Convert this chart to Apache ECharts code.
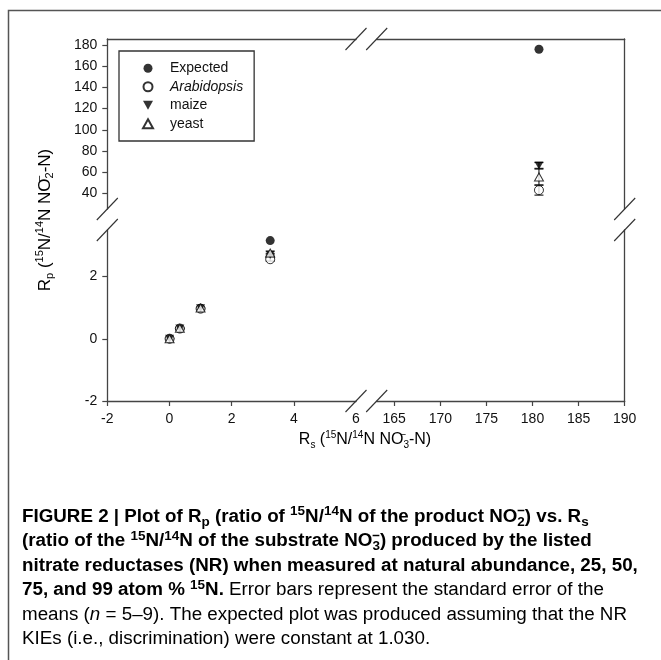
<!DOCTYPE html>
<html><head><meta charset="utf-8">
<script src="https://cdn.jsdelivr.net/npm/echarts@6/dist/echarts.min.js"></script>
<style>html,body{margin:0;padding:0;background:#fff}#c{width:661px;height:660px}</style>
</head><body><div id="c"></div>
<script>
// ---- data ----
const rs          = [0.0037, 0.333, 1.0, 3.24, 180.7];
const expected    = [0.0036, 0.33, 0.98, 3.16, 176.0];
const arabidopsis = [0.0036, 0.33, 0.97, 2.56, 43.0];
const arabErr     = [0.01, 0.01, 0.02, 0.06, 4.7];
const maize       = [0.0036, 0.33, 0.98, 2.70, 66.3];
const maizeErr    = [0.01, 0.01, 0.02, 0.05, 2.7];
const yeast       = [0.0036, 0.34, 0.99, 2.76, 55.4];
const yeastErr    = [0.01, 0.01, 0.02, 0.06, 7.5];
const xTicksLeft   = [-2, 0, 2, 4];
const xLabelsLeft  = [-2, 0, 2, 4, 6];
const xTicksRight  = [165, 170, 175, 180, 185, 190];
const yTicksLower  = [-2, 0, 2];
const yTicksUpper  = [40, 60, 80, 100, 120, 140, 160, 180];
const xRangeLeft = [-2, 6], xRangeRight = [163.1, 190];
const yRangeLower = [-2, 3.5], yRangeUpper = [25.2, 185.7];

// ---- layout ----
const G = {L:107.3, xbL:356, xbR:376.7, R:624.7, T:39, ybT:209, ybB:230, B:401};
const FONT = "'Liberation Sans', Arial, sans-serif";
const AX = '#444';

const chart = echarts.init(document.getElementById('c'), null, {renderer:'canvas'});

const grids = [
  {left:G.L,   top:G.T,   width:G.xbL-G.L, height:G.ybT-G.T}, // 0 TL
  {left:G.xbR, top:G.T,   width:G.R-G.xbR, height:G.ybT-G.T}, // 1 TR
  {left:G.L,   top:G.ybB, width:G.xbL-G.L, height:G.B-G.ybB}, // 2 BL
  {left:G.xbR, top:G.ybB, width:G.R-G.xbR, height:G.B-G.ybB}  // 3 BR
].map(g => Object.assign(g, {containLabel:false, outerBoundsMode:'none', show:false}));

const lineOnly = {show:true, onZero:false, lineStyle:{color:AX, width:1.3}};
const lbl = (vals, margin) => ({show:true, customValues:vals, margin, fontSize:14, color:'#111', fontFamily:FONT});
const tck = vals => ({show:true, customValues:vals, length:5, inside:false, lineStyle:{color:AX, width:1.2}});

const xAxis = [
  {gridIndex:0, type:'value', position:'top', min:xRangeLeft[0], max:xRangeLeft[1], axisLine:lineOnly, axisTick:{show:false}, axisLabel:{show:false}, splitLine:{show:false}},
  {gridIndex:1, type:'value', position:'top', min:xRangeRight[0], max:xRangeRight[1], axisLine:lineOnly, axisTick:{show:false}, axisLabel:{show:false}, splitLine:{show:false}},
  {gridIndex:2, type:'value', position:'bottom', min:xRangeLeft[0], max:xRangeLeft[1], axisLine:lineOnly, axisTick:tck(xTicksLeft), axisLabel:lbl(xLabelsLeft, 11), splitLine:{show:false}},
  {gridIndex:3, type:'value', position:'bottom', min:xRangeRight[0], max:xRangeRight[1], axisLine:lineOnly, axisTick:tck(xTicksRight), axisLabel:lbl(xTicksRight, 11), splitLine:{show:false}}
];
const yAxis = [
  {gridIndex:0, type:'value', position:'left', min:yRangeUpper[0], max:yRangeUpper[1], axisLine:lineOnly, axisTick:tck(yTicksUpper), axisLabel:lbl(yTicksUpper, 10), splitLine:{show:false}},
  {gridIndex:1, type:'value', position:'right', min:yRangeUpper[0], max:yRangeUpper[1], axisLine:lineOnly, axisTick:{show:false}, axisLabel:{show:false}, splitLine:{show:false}},
  {gridIndex:2, type:'value', position:'left', min:yRangeLower[0], max:yRangeLower[1], axisLine:lineOnly, axisTick:tck(yTicksLower), axisLabel:lbl(yTicksLower, 10), splitLine:{show:false}},
  {gridIndex:3, type:'value', position:'right', min:yRangeLower[0], max:yRangeLower[1], axisLine:lineOnly, axisTick:{show:false}, axisLabel:{show:false}, splitLine:{show:false}}
];

const gridDefs = [{top:true,right:false},{top:true,right:true},{top:false,right:false},{top:false,right:true}];
function pick(ys, errs, gd) {
  const out = [];
  for (let i = 0; i < rs.length; i++) {
    const isRight = rs[i] > 100, isTop = ys[i] > 15;
    if (isRight === gd.right && isTop === gd.top) out.push(errs ? [rs[i], ys[i], errs[i]] : [rs[i], ys[i]]);
  }
  return out;
}
const DOWN_TRI = 'path://M0,0L10,0L5,9Z';
const UP_TRI = 'path://M5,0L10,9L0,9Z';
const sets = [
  {name:'Expected', ys:expected, err:null, symbol:'circle', icon:'circle', size:9, style:{color:'#000'}},
  {name:'Arabidopsis', ys:arabidopsis, err:arabErr, symbol:'circle', icon:'circle', size:9, style:{color:'#fff', borderColor:'#000', borderWidth:1}},
  {name:'maize', ys:maize, err:maizeErr, symbol:'triangle', icon:DOWN_TRI, size:[9,8], rotate:180, style:{color:'#000'}},
  {name:'yeast', ys:yeast, err:yeastErr, symbol:'triangle', icon:UP_TRI, size:[9,8], style:{color:'#fff', borderColor:'#000', borderWidth:1}}
];

function errRender(params, api) {
  const x = api.value(0), y = api.value(1), e = api.value(2);
  const a = api.coord([x, y + e]), b = api.coord([x, y - e]);
  const hw = 4.5, st = {stroke:'#000', lineWidth:1};
  return {type:'group', children:[
    {type:'line', shape:{x1:a[0], y1:a[1], x2:b[0], y2:b[1]}, style:st},
    {type:'line', shape:{x1:a[0]-hw, y1:a[1], x2:a[0]+hw, y2:a[1]}, style:st},
    {type:'line', shape:{x1:b[0]-hw, y1:b[1], x2:b[0]+hw, y2:b[1]}, style:st}
  ]};
}

const series = [];
gridDefs.forEach((gd, gi) => {
  sets.forEach(s => {
    if (!s.err) return;
    const d = pick(s.ys, s.err, gd);
    if (d.length) series.push({type:'custom', name:s.name + ' err', xAxisIndex:gi, yAxisIndex:gi, data:d, renderItem:errRender, z:1, silent:true, encode:{x:0, y:1}});
  });
  sets.forEach((s, si) => {
    series.push({type:'scatter', name:s.name, xAxisIndex:gi, yAxisIndex:gi, data:pick(s.ys, null, gd),
      symbol:s.symbol, symbolSize:s.size, symbolRotate:s.rotate || 0, itemStyle:s.style, z:2 + si, silent:true,
      emphasis:{disabled:true}});
  });
});

// break marks
const slash = (cx, cy) => ({type:'line', silent:true, z:10, shape:{x1:cx-10.5, y1:cy+11, x2:cx+10.5, y2:cy-11}, style:{stroke:'#333', lineWidth:1.1}});
const breaks = [
  slash(G.L, G.ybT), slash(G.L, G.ybB), slash(G.R, G.ybT), slash(G.R, G.ybB),
  slash(G.xbL, G.B), slash(G.xbR, G.B), slash(G.xbL, G.T), slash(G.xbR, G.T)
];

// rich styles
const base = (fs, lh, w, extra) => Object.assign({fontFamily:FONT, fontSize:fs, lineHeight:lh, fontWeight:w, color:'#111', verticalAlign:'middle'}, extra || {});
const axRich = {
  m:   base(16, 20, 'normal'),
  sup: base(10, 10, 'normal', {verticalAlign:'top'}),
  supz:base(10, 10, 'normal', {verticalAlign:'top', width:0.01}),
  sub: base(10, 10, 'normal', {verticalAlign:'bottom'})
};
const yRich = {
  m:   base(17, 21, 'normal'),
  sup: base(11, 11, 'normal', {verticalAlign:'top'}),
  supz:base(11, 11, 'normal', {verticalAlign:'top', width:0.01}),
  sub: base(11, 11, 'normal', {verticalAlign:'bottom'})
};
const CF = 18.8, CL = 24.5;
const capRich = {
  b:    base(CF, CL, 'bold'),
  bsup: base(13.5, 14, 'bold', {verticalAlign:'top'}),
  bsupz:base(13.5, 14, 'bold', {verticalAlign:'top', width:0.01}),
  bsub: base(13.5, 14, 'bold', {verticalAlign:'bottom'}),
  r:    base(CF, CL, 'normal', {color:'#222'}),
  ri:   base(CF, CL, 'normal', {color:'#222', fontStyle:'italic'})
};
const caption = [
  '{b|FIGURE 2 | Plot of R}{bsub|p}{b| (ratio of }{bsup|15}{b|N/}{bsup|14}{b|N of the product NO}{bsupz|−}{bsub|2}{b|) vs. R}{bsub|s}',
  '{b|(ratio of the }{bsup|15}{b|N/}{bsup|14}{b|N of the substrate NO}{bsupz|−}{bsub|3}{b|) produced by the listed}',
  '{b|nitrate reductases (NR) when measured at natural abundance, 25, 50,}',
  '{b|75, and 99 atom % }{bsup|15}{b|N.}{r| Error bars represent the standard error of the}',
  '{r|means (}{ri|n}{r| = 5–9). The expected plot was produced assuming that the NR}',
  '{r|KIEs (i.e., discrimination) were constant at 1.030.}'
].join('\n');

const graphic = [
  {type:'rect', silent:true, z:0, shape:{x:8.5, y:10.5, width:700, height:700}, style:{fill:'none', stroke:'#555', lineWidth:1.5}},
  ...breaks,
  {type:'text', silent:true, x:365, y:440, style:{text:'{m|R}{sub|s}{m| (}{sup|15}{m|N/}{sup|14}{m|N NO}{supz|−}{sub|3}{m|-N)}', rich:axRich, align:'center', verticalAlign:'middle'}},
  {type:'text', silent:true, x:45, y:220, rotation:Math.PI/2, style:{text:'{m|R}{sub|p}{m| (}{sup|15}{m|N/}{sup|14}{m|N NO}{supz|−}{sub|2}{m|-N)}', rich:yRich, align:'center', verticalAlign:'middle'}},
  {type:'text', silent:true, x:22, y:504.5, style:{text:caption, rich:capRich, align:'left', verticalAlign:'top'}}
];

chart.setOption({
  animation:false,
  backgroundColor:'#fff',
  grid:grids, xAxis, yAxis, series, graphic,
  legend:{
    data:sets.map(s => ({name:s.name, icon:s.icon})), orient:'vertical', left:119, top:51,
    padding:[9, 11, 9, 23], itemGap:2, itemWidth:34, itemHeight:9, symbolKeepAspect:true,
    borderColor:'#333', borderWidth:1.3, backgroundColor:'#fff', selectedMode:false,
    textStyle:{fontFamily:FONT, fontSize:14, color:'#111', lineHeight:16.5,
      rich:{it:{fontFamily:FONT, fontSize:14, fontStyle:'italic', color:'#111', lineHeight:16.5}}},
    formatter:n => n === 'Arabidopsis' ? '{it|Arabidopsis}' : n
  }
});
</script></body></html>
